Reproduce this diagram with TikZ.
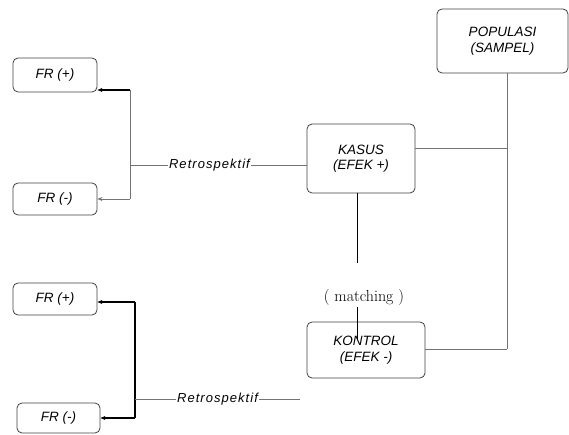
\documentclass[tikz,border=0pt]{standalone}
\usepackage{fontspec}
\setmainfont{Liberation Sans}
\newfontfamily\lmfont{Latin Modern Roman}
\usetikzlibrary{arrows.meta}
\tikzset{
  box/.style={draw=black!75, line width=0.8pt, rounded corners=5pt, inner sep=0pt, align=center, font=\fontsize{13.5}{15.5}\selectfont\itshape},
  lbl/.style={fill=white, inner sep=1pt, font=\fontsize{13}{15}\selectfont\itshape\addfontfeature{LetterSpace=8}},
  thin/.style={draw=black!55, line width=0.7pt},
  thick/.style={draw=black, line width=1.2pt},
  arr/.style={-{Stealth[length=5pt,width=4pt]}}
}
\begin{document}
\begin{tikzpicture}[x=1pt,y=1pt]
\useasboundingbox (0,0) rectangle (569,-435);
% boxes
\node[box, minimum width=84, minimum height=34] (frp1) at (55,-75) {FR (+)};
\node[box, minimum width=84, minimum height=32] (frm1) at (55,-199) {FR (-)};
\node[box, minimum width=108, minimum height=69] (kasus) at (361,-158.5) {KASUS\\(EFEK +)};
\node[box, minimum width=131, minimum height=64] (pop) at (502.5,-41) {POPULASI\\(SAMPEL)};
\node[box, minimum width=118, minimum height=56] (kontrol) at (366,-350) {KONTROL\\(EFEK -)};
\node[box, minimum width=84, minimum height=32] (frp2) at (55,-299) {FR (+)};
\node[box, minimum width=83, minimum height=30] (frm2) at (58.5,-418) {FR (-)};
\node[font=\fontsize{16}{18}\selectfont\lmfont, inner sep=1pt] (match) at (364,-298) {( matching )};
% coordinates
\coordinate (t1) at (130,-90);
\coordinate (t2) at (130,-199);
\coordinate (tm) at (130,-165);
\coordinate (b1) at (135,-302);
\coordinate (b2) at (135,-418);
\coordinate (bm) at (135,-399);
\coordinate (bend) at (300,-399);
\coordinate (pj) at (507,-148);
\coordinate (pk) at (507,-349);
\coordinate (ks) at (357,-193.5);
\coordinate (kse) at (357,-263);
\coordinate (mte) at (357,-340);
% upper retrospektif
\draw[thin] (t1) -- (t2);
\draw[thick, arr] (t1) -- (t1 -| frp1.east);
\draw[thin, arr] (t2) -- (frm1.east);
\draw[thin] (tm) -- (tm -| kasus.west) node[lbl, pos=0.45] (r1) {Retrospektif};
% lower retrospektif
\draw[thick] (b1) -- (b2);
\draw[thick, arr] (b1) -- (b1 -| frp2.east);
\draw[thick, arr] (b2) -- (frm2.east);
\draw[thin] (bm) -- (bend) node[lbl, pos=0.5] (r2) {Retrospektif};
% population links
\draw[thin] (pop.south -| pj) -- (pk);
\draw[thin] (kasus.east |- pj) -- (pj);
\draw[thin] (kontrol.east |- pk) -- (pk);
% matching
\draw[thick, line width=1pt] (ks) -- (kse);
\draw[thick, line width=1pt] (match.south -| ks) -- (mte);
\end{tikzpicture}
\end{document}
